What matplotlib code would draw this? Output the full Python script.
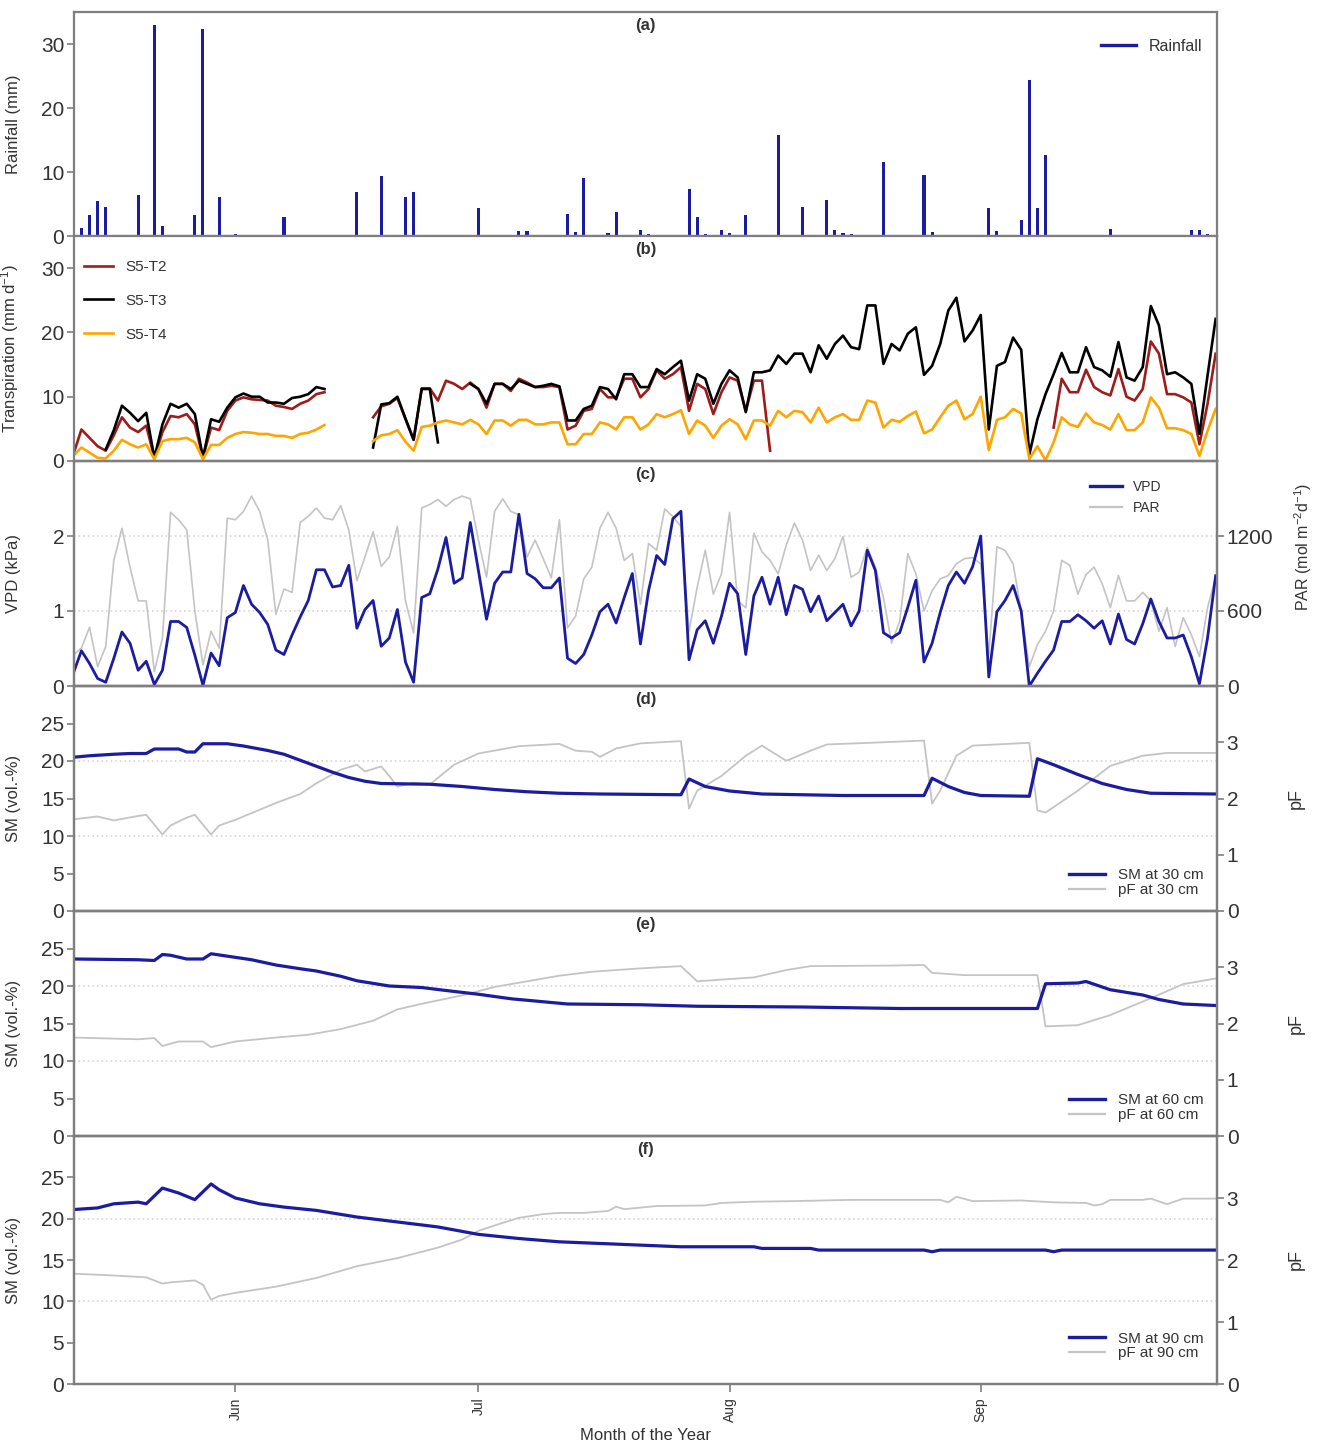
import numpy as np
import pandas as pd
import matplotlib
matplotlib.use('Agg')
import matplotlib.pyplot as plt
from matplotlib.lines import Line2D

plt.rcParams['font.family'] = ['Liberation Sans', 'DejaVu Sans']
plt.rcParams['mathtext.default'] = 'regular'

nan = np.nan
start = pd.Timestamp('2018-05-12')
n_days = 142
dates = pd.date_range(start, periods=n_days, freq='D')

# ---------------- (a) rainfall ----------------
rain_day = [1, 2, 3, 4, 8, 10, 11, 15, 16, 17, 18, 20, 24, 26, 35, 38, 41, 42, 50, 55, 56,
            61, 62, 63, 64, 66, 67, 68, 70, 71, 76, 77, 78, 80, 81, 83, 87, 90, 92, 93, 94,
            95, 96, 100, 105, 106, 113, 114, 117, 118, 119, 120, 128, 138, 139, 140]
rain_mm = [1.2, 3.3, 5.4, 4.5, 6.4, 32.9, 1.6, 3.3, 32.4, 0.2, 6.1, 0.3, 0.2, 2.9, 6.8, 9.4,
           6.1, 6.8, 4.3, 0.8, 0.8, 3.5, 0.7, 9.0, 0.2, 0.4, 3.7, 0.2, 1.0, 0.3, 7.3, 3.0,
           0.3, 1.0, 0.5, 3.3, 15.8, 4.5, 0.2, 5.6, 1.0, 0.5, 0.3, 11.6, 9.6, 0.6, 4.3, 0.8,
           2.5, 24.3, 4.3, 12.7, 1.1, 1.0, 1.0, 0.3]

# ---------------- (b) transpiration ----------------
t2 = ([1.0, 4.9, 3.6, 2.3, 1.6, 4.0, 6.8, 5.2, 4.5, 5.5, 0.5, 4.5, 7.0, 6.8, 7.3, 5.7, 0.5,
       5.2, 4.8, 7.8, 9.4, 9.9, 9.6, 9.5, 9.4, 8.6, 8.4, 8.1, 8.9, 9.4, 10.4, 10.7]
      + [nan] * 5
      + [6.8, 8.5, 8.9, 9.8, 6.5, 3.3, 11.3, 11.3, 9.4, 12.5, 12.0, 11.2, 12.2, 11.2, 8.3,
         12.0, 12.0, 10.9, 12.8, 12.2, 11.5, 11.5, 11.7, 11.5, 4.9, 5.5, 7.8, 8.1, 11.2, 9.9,
         9.9, 12.8, 12.8, 9.9, 11.2, 14.1, 12.8, 13.5, 14.6, 7.8, 12.0, 11.2, 7.3, 10.7, 13.0,
         12.5, 7.8, 12.5, 12.5, 1.6]
      + [nan] * 34
      + [5.2, 12.8, 10.7, 10.7, 14.2, 11.5, 10.7, 10.2, 14.3, 10.0, 9.4, 11.2, 18.6, 16.7,
         10.4, 10.4, 9.9, 9.1, 2.6, 8.9, 16.7])
t3 = ([nan] * 4
      + [1.8, 4.8, 8.6, 7.5, 6.2, 7.5, 0.5, 5.7, 8.9, 8.3, 8.9, 7.3, 0.5, 6.5, 6.1, 8.3, 9.9,
         10.5, 10.0, 10.0, 9.1, 9.1, 8.9, 9.8, 10.0, 10.4, 11.5, 11.2]
      + [nan] * 5
      + [2.1, 8.8, 9.0, 10.0, 6.6, 3.3, 11.2, 11.2, 2.9]
      + [nan] * 3
      + [12.0, 11.2, 8.9, 12.0, 12.0, 11.2, 12.5, 12.0, 11.5, 11.7,
         12.0, 11.6, 6.3, 6.3, 8.1, 8.6, 11.5, 11.2, 9.6, 13.5,
         13.5, 11.5, 11.5, 14.3, 13.5, 14.6, 15.6, 9.4, 13.5, 12.8,
         8.9, 12.0, 14.1, 13.0, 7.6, 13.8, 13.8, 14.1, 16.4, 15.1,
         16.7, 16.7, 13.8, 18.0, 15.9, 18.2, 19.5, 17.7, 17.4, 24.2,
         24.2, 15.1, 18.2, 17.2, 19.8, 20.8, 13.4, 14.8, 18.2, 23.4,
         25.4, 18.6, 20.3, 22.7, 4.9, 14.8, 15.4, 19.2, 17.3, 1.0,
         6.5, 10.4, 13.5, 16.8, 13.8, 13.8, 17.7, 14.6, 14.1, 13.1,
         18.5, 13.0, 12.5, 14.6, 24.1, 21.1, 13.5, 13.8, 13.0, 12.0,
         4.2, 13.3, 22.1])
t4 = ([0.8, 2.1, 1.3, 0.5, 0.4, 1.6, 3.3, 2.6, 2.1, 2.6, 0.3, 3.1, 3.4, 3.4, 3.6, 2.9, 0.3,
       2.5, 2.5, 3.6, 4.2, 4.5, 4.4, 4.2, 4.2, 3.9, 3.9, 3.6, 4.2, 4.4, 4.9, 5.6]
      + [nan] * 5
      + [3.1, 4.0, 4.2, 4.8, 3.0, 1.6, 5.3, 5.5, 6.0, 6.3,
         6.0, 5.7, 6.4, 5.7, 4.2, 6.3, 6.3, 5.5, 6.4, 6.4,
         5.7, 5.7, 6.0, 6.0, 2.6, 2.6, 4.2, 4.2, 6.0, 5.7,
         4.9, 6.8, 6.8, 4.9, 5.7, 7.3, 6.8, 7.3, 7.9, 4.2,
         6.3, 5.5, 3.6, 5.5, 6.5, 5.7, 3.4, 6.3, 6.3, 5.5,
         7.8, 6.8, 7.8, 7.6, 6.0, 8.3, 6.0, 6.8, 7.3, 6.4,
         6.4, 9.4, 9.1, 5.2, 6.4, 6.1, 7.0, 7.7, 4.3, 4.9,
         6.8, 8.6, 9.4, 6.5, 7.3, 10.0, 1.7, 6.4, 6.8, 8.1,
         7.4, 0.3, 2.3, 0.1, 2.9, 6.8, 5.7, 5.3, 7.4, 6.0,
         5.6, 4.9, 7.3, 4.8, 4.8, 6.0, 9.9, 8.3, 5.1, 5.1,
         4.8, 4.2, 0.8, 4.7, 8.1])

# ---------------- (c) VPD / PAR ----------------
vpd = [0.17, 0.47, 0.30, 0.10, 0.05, 0.37, 0.72, 0.57, 0.21, 0.33,
       0.02, 0.21, 0.86, 0.86, 0.78, 0.41, 0.01, 0.44, 0.27, 0.91,
       0.98, 1.34, 1.09, 0.98, 0.82, 0.48, 0.42, 0.68, 0.92, 1.14,
       1.55, 1.55, 1.32, 1.34, 1.61, 0.77, 1.02, 1.14, 0.53, 0.64,
       1.02, 0.32, 0.05, 1.18, 1.23, 1.56, 1.98, 1.37, 1.44, 2.18,
       1.54, 0.89, 1.37, 1.52, 1.52, 2.29, 1.50, 1.43, 1.31, 1.31,
       1.44, 0.37, 0.30, 0.42, 0.68, 0.99, 1.09, 0.84, 1.18, 1.50,
       0.56, 1.27, 1.74, 1.62, 2.23, 2.33, 0.35, 0.75, 0.87, 0.57,
       0.93, 1.37, 1.23, 0.42, 1.20, 1.45, 1.09, 1.45, 0.95, 1.34,
       1.29, 0.99, 1.20, 0.87, 0.98, 1.09, 0.80, 1.00, 1.81, 1.54,
       0.71, 0.64, 0.71, 1.05, 1.41, 0.32, 0.57, 0.98, 1.34, 1.52,
       1.37, 1.59, 2.00, 0.12, 0.99, 1.14, 1.34, 1.00, 0.00, 0.17,
       0.33, 0.48, 0.86, 0.86, 0.95, 0.87, 0.77, 0.87, 0.56, 0.96,
       0.62, 0.56, 0.83, 1.16, 0.86, 0.64, 0.64, 0.68, 0.39, 0.03,
       0.64, 1.47]
par = [249, 303, 470, 154, 316, 1005, 1262, 951, 681, 681,
       114, 384, 1389, 1330, 1249, 600, 168, 438, 303, 1343,
       1330, 1397, 1519, 1397, 1168, 573, 776, 749, 1308, 1357,
       1424, 1343, 1330, 1443, 1249, 843, 1032, 1235, 957, 1032,
       1276, 681, 424, 1424, 1452, 1492, 1438, 1492, 1519, 1497,
       1168, 870, 1397, 1497, 1397, 1370, 1032, 1168, 1019, 865,
       1330, 465, 559, 857, 951, 1262, 1389, 1262, 1005, 1059,
       654, 1140, 1086, 1416, 1357, 1276, 438, 789, 1086, 735,
       897, 1389, 681, 627, 1222, 1073, 1005, 897, 1127, 1303,
       1168, 924, 1046, 924, 1019, 1195, 870, 910, 1110, 951,
       708, 343, 519, 1059, 897, 600, 762, 857, 884, 978,
       1019, 1027, 978, 249, 1114, 1086, 978, 600, 154, 330,
       438, 600, 1005, 965, 735, 892, 951, 816, 627, 884,
       681, 681, 749, 681, 438, 627, 316, 546, 411, 235,
       627, 870]

# ---------------- (d) 30 cm ----------------
sm30_day = [0, 2, 5, 7, 9, 10, 13, 14, 15, 16, 19, 21, 24, 26, 28, 30, 32, 34, 36, 38, 44,
            48, 52, 56, 60, 65, 75, 76, 78, 81, 85, 95, 105, 106, 108, 110, 112, 118, 119,
            121, 124, 127, 130, 133, 141]
sm30 = [20.5, 20.7, 20.9, 21.0, 21.0, 21.6, 21.6, 21.2, 21.2, 22.3, 22.3, 22.0, 21.4, 20.9,
        20.1, 19.3, 18.5, 17.8, 17.3, 17.0, 16.9, 16.6, 16.2, 15.9, 15.7, 15.6, 15.5, 17.6,
        16.6, 16.0, 15.6, 15.4, 15.4, 17.7, 16.6, 15.8, 15.4, 15.3, 20.3, 19.5, 18.2, 17.0,
        16.2, 15.7, 15.6]
pf30_day = [0, 3, 5, 8, 9, 11, 12, 14, 15, 17, 18, 20, 25, 28, 30, 33, 35, 36, 38, 39, 40,
            42, 44, 47, 50, 55, 60, 62, 64, 65, 67, 70, 75, 76, 77, 80, 83, 85, 88, 91, 93,
            100, 105, 106, 107, 109, 111, 118, 119, 120, 124, 128, 132, 135, 141]
pf30 = [1.63, 1.68, 1.61, 1.69, 1.71, 1.36, 1.52, 1.66, 1.71, 1.36, 1.52, 1.62, 1.92, 2.08,
        2.27, 2.51, 2.60, 2.48, 2.57, 2.40, 2.21, 2.28, 2.25, 2.60, 2.80, 2.93, 2.97, 2.85,
        2.83, 2.74, 2.89, 2.98, 3.02, 1.82, 2.14, 2.40, 2.76, 2.94, 2.67, 2.85, 2.96,
        3.00, 3.03, 1.91, 2.14, 2.76, 2.94, 2.99, 1.79, 1.75, 2.14, 2.58, 2.76, 2.81, 2.81]

# ---------------- (e) 60 cm ----------------
sm60_day = [0, 8, 10, 11, 12, 14, 16, 17, 22, 25, 28, 30, 33, 35, 39, 43, 46, 50, 54, 58,
            61, 70, 77, 90, 102, 119, 120, 124, 125, 128, 132, 134, 137, 141]
sm60 = [23.6, 23.5, 23.4, 24.2, 24.1, 23.6, 23.6, 24.3, 23.5, 22.8, 22.3, 22.0, 21.3, 20.7,
        20.0, 19.8, 19.4, 18.9, 18.3, 17.9, 17.6, 17.5, 17.3, 17.2, 17.0, 17.0, 20.3, 20.4,
        20.6, 19.5, 18.8, 18.2, 17.6, 17.4]
pf60_day = [0, 8, 10, 11, 13, 16, 17, 20, 25, 29, 33, 37, 40, 43, 48, 52, 56, 60, 64, 70,
            75, 77, 80, 84, 88, 91, 101, 105, 106, 110, 119, 120, 124, 128, 133, 137, 141]
pf60 = [1.75, 1.72, 1.74, 1.60, 1.68, 1.68, 1.58, 1.68, 1.75, 1.80, 1.90, 2.05, 2.25, 2.35,
        2.50, 2.65, 2.75, 2.85, 2.92, 2.98, 3.02, 2.75, 2.78, 2.82, 2.95, 3.02, 3.03, 3.04,
        2.90, 2.86, 2.86, 1.95, 1.97, 2.15, 2.45, 2.70, 2.80]

# ---------------- (f) 90 cm ----------------
sm90_day = [0, 3, 5, 8, 9, 11, 13, 15, 17, 18, 20, 23, 26, 30, 35, 40, 45, 50, 55, 60, 65,
            70, 75, 84, 85, 91, 92, 105, 106, 107, 120, 121, 122, 141]
sm90 = [21.1, 21.3, 21.8, 22.0, 21.8, 23.7, 23.1, 22.3, 24.2, 23.5, 22.5, 21.8, 21.4, 21.0,
        20.2, 19.6, 19.0, 18.1, 17.6, 17.2, 17.0, 16.8, 16.6, 16.6, 16.4, 16.4, 16.2, 16.2,
        16.0, 16.2, 16.2, 16.0, 16.2, 16.2]
pf90_day = [0, 5, 9, 11, 12, 15, 16, 17, 18, 20, 25, 30, 35, 40, 45, 48, 50, 53, 55, 58, 60,
            63, 66, 67, 68, 72, 78, 80, 84, 89, 96, 107, 108, 109, 111, 117, 121, 125, 126,
            127, 128, 132, 133, 135, 137, 141]
pf90 = [1.78, 1.75, 1.72, 1.62, 1.64, 1.67, 1.60, 1.36, 1.42, 1.47, 1.57, 1.71, 1.90, 2.03,
        2.20, 2.33, 2.47, 2.60, 2.68, 2.74, 2.76, 2.76, 2.79, 2.86, 2.82, 2.87, 2.88, 2.92,
        2.94, 2.95, 2.97, 2.97, 2.93, 3.02, 2.95, 2.96, 2.93, 2.92, 2.88, 2.90, 2.97, 2.97,
        2.99, 2.90, 2.99, 2.99]

month_labels = ['Jun', 'Jul', 'Aug', 'Sep']

# ================= drawing =================
BLUE = '#1c1ca0'
GRAY = '#c4c4c4'
RED = '#9e1c1c'
ORANGE = '#ffa500'
SPINE = '#7f7f7f'
TXT = '#333333'


def to_dates(days):
    return start + pd.to_timedelta(np.asarray(days, dtype=float), unit='D')


fig = plt.figure(figsize=(13.18, 14.44), dpi=100)
gs = fig.add_gridspec(6, 1, height_ratios=[224, 225, 225, 225, 225, 248], hspace=0,
                      left=74 / 1318, right=1217 / 1318, top=1 - 12 / 1444,
                      bottom=1 - 1384 / 1444)
axes = [fig.add_subplot(gs[i]) for i in range(6)]
for a in axes[1:]:
    a.sharex(axes[0])

xmin = start + pd.Timedelta(hours=2)
xmax = start + pd.Timedelta(days=141, hours=4)


def style(ax):
    for sp in ax.spines.values():
        sp.set_color(SPINE)
        sp.set_linewidth(1.6)
    ax.tick_params(axis='y', direction='out', length=5, width=1.2, color=SPINE,
                   labelsize=15, labelcolor=TXT, pad=2)
    ax.tick_params(axis='x', which='both', bottom=False, labelbottom=False)
    ax.set_xlim(xmin, xmax)


def panel_title(ax, t):
    ax.text(0.5, 0.975, t, transform=ax.transAxes, ha='center', va='top',
            fontsize=12, fontweight='bold', color=TXT)


def hgrid(ax, vals):
    for v in vals:
        ax.axhline(v, ls=(0, (1, 2)), color='#cfcfcf', lw=1.1, zorder=0)


# (a)
ax = axes[0]
style(ax)
ax.bar(to_dates(rain_day), rain_mm, width=0.38, color=BLUE, edgecolor='none')
ax.set_ylim(0, 35)
ax.set_yticks([0, 10, 20, 30])
ax.set_ylabel('Rainfall (mm)', fontsize=12, color=TXT)
ax.yaxis.set_label_coords(-0.046, 0.5)
panel_title(ax, '(a)')
ax.legend(handles=[Line2D([], [], color=BLUE, lw=2.4)], labels=['Rainfall'],
          loc='upper right', bbox_to_anchor=(1.0, 0.945), frameon=False, fontsize=11.5,
          handlelength=2.2, labelcolor=TXT)

# (b)
ax = axes[1]
style(ax)
l2, = ax.plot(dates, t2, color=RED, lw=1.9, label='S5-T2')
l3, = ax.plot(dates, t3, color='black', lw=1.9, label='S5-T3')
l4, = ax.plot(dates, t4, color=ORANGE, lw=1.9, label='S5-T4')
ax.set_ylim(0, 35)
ax.set_yticks([0, 10, 20, 30])
ax.set_ylabel('Transpiration (mm d$^{-1}$)', fontsize=12, color=TXT)
ax.yaxis.set_label_coords(-0.046, 0.5)
panel_title(ax, '(b)')
ax.legend(handles=[l2, l3, l4], loc='upper left', bbox_to_anchor=(-0.003, 0.955),
          frameon=False, fontsize=11, handlelength=1.9, labelspacing=1.3, labelcolor=TXT)

# (c)
ax = axes[2]
style(ax)
axr = ax.twinx()
style(axr)
axr.plot(dates, par, color=GRAY, lw=1.2)
ax.plot(dates, vpd, color=BLUE, lw=2.0)
ax.set_zorder(axr.get_zorder() + 1)
ax.patch.set_visible(False)
hgrid(axr, [600, 1200])
ax.set_ylim(0, 3)
ax.set_yticks([0, 1, 2])
axr.set_ylim(0, 1800)
axr.set_yticks([0, 600, 1200])
ax.set_ylabel('VPD (kPa)', fontsize=12, color=TXT)
ax.yaxis.set_label_coords(-0.046, 0.5)
axr.set_ylabel('PAR (mol m$^{-2}$d$^{-1}$)', fontsize=11.5, color=TXT)
axr.yaxis.set_label_coords(1.066, 0.62)
panel_title(ax, '(c)')
ax.legend(handles=[Line2D([], [], color=BLUE, lw=2.4), Line2D([], [], color=GRAY, lw=1.6)],
          labels=['VPD', 'PAR'], loc='upper left', bbox_to_anchor=(0.878, 0.97),
          frameon=False, fontsize=10, handlelength=2.3, labelspacing=0.5, labelcolor=TXT)


def soil_panel(ax, smd, sm, pfd, pf, depth, title, leg_anchor):
    style(ax)
    axr = ax.twinx()
    style(axr)
    axr.plot(to_dates(pfd), pf, color=GRAY, lw=1.3)
    ax.plot(to_dates(smd), sm, color=BLUE, lw=2.3)
    ax.set_zorder(axr.get_zorder() + 1)
    ax.patch.set_visible(False)
    hgrid(ax, [10, 20])
    ax.set_ylim(0, 30)
    ax.set_yticks([0, 5, 10, 15, 20, 25])
    axr.set_ylim(0, 4)
    axr.set_yticks([0, 1, 2, 3])
    ax.set_ylabel('SM (vol.-%)', fontsize=12, color=TXT)
    ax.yaxis.set_label_coords(-0.046, 0.5)
    axr.set_ylabel('pF', fontsize=13, color=TXT)
    axr.yaxis.set_label_coords(1.062, 0.5)
    panel_title(ax, title)
    ax.legend(handles=[Line2D([], [], color=BLUE, lw=2.4), Line2D([], [], color=GRAY, lw=1.6)],
              labels=['SM at %d cm' % depth, 'pF at %d cm' % depth], loc='lower right',
              bbox_to_anchor=leg_anchor, frameon=False, fontsize=11, handlelength=2.4,
              labelspacing=0.05, handletextpad=0.8, labelcolor=TXT)
    return axr


soil_panel(axes[3], sm30_day, sm30, pf30_day, pf30, 30, '(d)', (1.0, 0.0))
soil_panel(axes[4], sm60_day, sm60, pf60_day, pf60, 60, '(e)', (1.0, 0.0))
soil_panel(axes[5], sm90_day, sm90, pf90_day, pf90, 90, '(f)', (1.0, 0.04))

# x axis on bottom panel
axb = axes[5]
month_ticks = [pd.Timestamp('2018-%02d-01' % m) for m in (6, 7, 8, 9)]
axb.set_xticks(month_ticks)
axb.set_xticklabels(month_labels)
axb.tick_params(axis='x', which='both', bottom=True, labelbottom=True, direction='out',
                length=6, width=1.2, color=SPINE, labelsize=10, labelcolor=TXT,
                labelrotation=90)
axb.set_xlabel('Month of the Year', fontsize=12, color=TXT, labelpad=4)
axb.set_xlim(xmin, xmax)

fig.savefig('out.png', dpi=100)
